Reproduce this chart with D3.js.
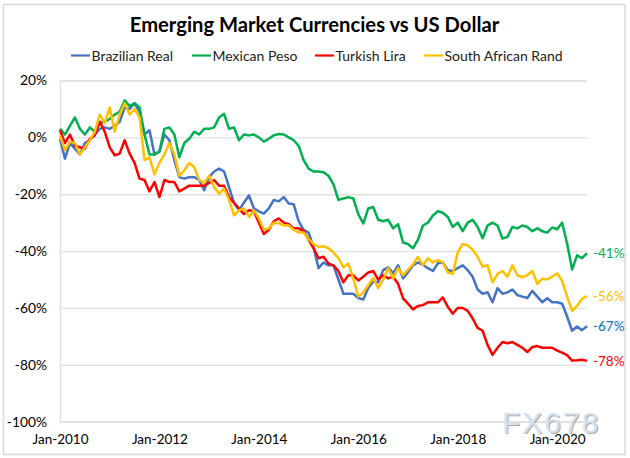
<!DOCTYPE html>
<html>
<head>
<meta charset="utf-8">
<script src="https://cdnjs.cloudflare.com/ajax/libs/d3/7.8.5/d3.min.js"></script>
<style>
body { margin: 0; background: #fff; }
text { font-family: Lato, "Noto Sans", sans-serif; }
</style>
</head>
<body>
<svg id="chart"></svg>
<script>
// sampled every 0.1 year from Jan-2010
const real = [-0.5,-7.5,-2,-4,-6,-2,-1,1,3,3.5,3,4,5.5,10.5,10,12,9,1,2.5,-6,-5,1,-1,-8,-14,-14.5,-14,-14,-15,-18.6,-14,-12,-11,-12,-17.5,-23,-25.6,-23,-20.4,-25,-26,-26.8,-25,-22,-22.5,-21,-23.3,-23.5,-29.5,-32.5,-33.5,-38.6,-46,-44,-45,-45,-50,-55,-55,-55,-56.5,-57,-53,-50.7,-51,-46.7,-45.7,-47.8,-45,-49.6,-47.4,-45,-44,-44.8,-46,-47,-44.3,-44,-46.7,-47,-46,-45,-46.7,-49,-53.5,-55,-54.5,-58,-53,-55,-54.5,-53.5,-55.5,-56,-56.5,-54,-56,-58,-56.6,-58,-58,-58.5,-63,-68,-66.5,-67.8,-66.4];
const peso = [3,1,4,7,3,1,3.5,2,5,5.5,6.5,8,9,13,11,12,10.5,1,-6,-6,-5,3,3.5,1,-7,-2,-0.5,2,1,3,3,3.5,7,8.3,3,3.5,-1,1,0.7,1,0,-1.5,-0.5,0.7,1.2,1,0,-1,-3,-8,-11,-12,-12,-12.3,-13.5,-16.5,-22,-21.5,-21,-21.5,-27,-30.3,-25,-24.5,-29,-29.5,-29,-32,-30.5,-37,-37.5,-39,-36,-31,-30,-27.5,-26,-26.5,-28,-31.5,-30,-33,-30,-29,-31.5,-35.5,-31,-30,-31,-35.6,-35,-31.5,-32,-31,-31.5,-33,-32,-33,-33.5,-31.7,-32.3,-30,-37.3,-46.5,-41.5,-42.5,-40.7];
const lira = [2.5,-2,1,-3,-3.5,-4,-0.5,0.7,5.5,2,-3.5,-6.3,-5.7,-1,-5.7,-9,-14.5,-15,-19,-15.7,-21,-15,-15.7,-15.7,-19,-18,-17,-17,-17,-17,-16,-15,-17,-17,-21,-23,-25,-27,-25.6,-26,-30,-34,-32.5,-29.5,-28.5,-30,-30.5,-32,-32,-33,-36,-39,-42.5,-42,-44.4,-45,-47,-51,-48.5,-48.5,-50.3,-49,-47.5,-47,-50,-48.5,-49.6,-49,-51.5,-56.6,-58.5,-60.5,-59.3,-59,-58,-58,-58,-56.3,-59.6,-62,-60,-60,-61,-63.7,-67,-68,-73,-76.5,-74,-72,-72.4,-72,-73,-74,-75.5,-73.7,-73.4,-74,-74,-74,-75,-75.7,-76.6,-78.5,-78.4,-78.2,-78.6];
const rand = [0.7,-4.5,-1.5,-2,-6,-3.5,-1,2,8,5,10.5,2,8,12,8,10,7,-8,-7,-13,-9,-6,-2,-6,-13.5,-11.6,-9,-10.4,-15,-16,-13.5,-17.5,-19.8,-18,-22,-27.4,-25.6,-25,-28,-25.6,-28.6,-32.5,-32,-30,-30.2,-31,-31,-32.5,-33.5,-33.5,-35.8,-37.5,-38.5,-38.3,-39,-40.5,-42.5,-45.7,-44.4,-49.7,-56,-54.5,-52,-49.5,-53,-50,-46,-49.6,-46,-48.5,-46.5,-44.7,-42,-45,-42.5,-44,-43.2,-44,-47.5,-48,-40.4,-37.5,-38,-39.5,-42,-45.5,-45,-51,-48,-47,-49,-45,-48.5,-49.2,-48.5,-47,-51.5,-49.7,-50,-49,-47.8,-50.5,-56,-61,-59.3,-56.8,-55.8];

const seriesNames = ['Brazilian Real', 'Mexican Peso', 'Turkish Lira', 'South African Rand'];
const seriesValues = [real, peso, lira, rand];
const seriesColors = ['#4472C4', '#00B050', '#FF0000', '#FFC000'];
const legendX = [71, 192, 315, 424];
const yTicks = [20, 0, -20, -40, -60, -80, -100];
const xTicks = [2010, 2012, 2014, 2016, 2018, 2020];
const endLabels = ['-67%', '-41%', '-78%', '-56%'];
const endColors = ['#0070C0', '#00B050', '#FF0000', '#FFC000'];

const width = 630, height = 458;
const svg = d3.select('#chart').attr('width', width).attr('height', height);

const x = d3.scaleLinear().domain([2010, 2020.6]).range([60, 587]);
const y = d3.scaleLinear().domain([-100, 20]).range([421.7, 80.5]);

svg.append('rect')
	.attr('x', 3.5).attr('y', 4.5)
	.attr('width', 621.5).attr('height', 450)
	.attr('fill', '#fff')
	.attr('stroke', '#D9D9D9')
	.attr('stroke-width', 1.5);

svg.append('text')
	.attr('x', 314.5).attr('y', 32)
	.attr('text-anchor', 'middle')
	.attr('font-size', 20.2)
	.attr('font-weight', 700)
	.attr('fill', '#000')
	.text('Emerging Market Currencies vs US Dollar');

// y axis with gridlines
const yAxis = svg.append('g')
	.attr('transform', 'translate(60,0)')
	.call(d3.axisLeft(y).tickValues(yTicks).tickSize(-527).tickPadding(13).tickFormat(d => d + '%'));
yAxis.select('.domain').attr('stroke', '#E0E0E0').attr('stroke-width', 1.5);
yAxis.selectAll('line').attr('stroke', '#E0E0E0').attr('stroke-width', 1.3);
yAxis.selectAll('text').attr('font-size', 13.8).attr('fill', '#000').attr('font-family', 'Lato');

const xAxis = svg.append('g')
	.attr('transform', 'translate(0,421.7)')
	.call(d3.axisBottom(x).tickValues(xTicks).tickSize(0).tickPadding(13).tickFormat(d => 'Jan-' + d));
xAxis.select('.domain').attr('stroke', '#E0E0E0').attr('stroke-width', 1.5);
xAxis.selectAll('text').attr('font-size', 13.5).attr('fill', '#000').attr('font-family', 'Lato');

const line = d3.line()
	.x((d, i) => x(2010 + i / 10))
	.y(d => y(d));

seriesValues.forEach((vals, k) => {
	svg.append('path')
		.datum(vals)
		.attr('fill', 'none')
		.attr('stroke', seriesColors[k])
		.attr('stroke-width', 2.5)
		.attr('stroke-linejoin', 'round')
		.attr('d', line);

	svg.append('line')
		.attr('x1', legendX[k]).attr('x2', legendX[k] + 19)
		.attr('y1', 55.5).attr('y2', 55.5)
		.attr('stroke', seriesColors[k])
		.attr('stroke-width', 2.2);

	svg.append('text')
		.attr('x', legendX[k] + 20.5).attr('y', 60.5)
		.attr('font-size', 14)
		.attr('fill', '#222')
		.text(seriesNames[k]);

	svg.append('text')
		.attr('x', 593).attr('y', y(vals[vals.length - 1]) + 5)
		.attr('font-size', 13.5)
		.attr('fill', endColors[k])
		.text(endLabels[k]);
});

// watermark, soft shadow through a filter
const shadow = svg.append('defs').append('filter').attr('id', 'wm');
shadow.append('feDropShadow')
	.attr('dx', 1.2).attr('dy', 1)
	.attr('stdDeviation', 0.4)
	.attr('flood-color', '#B8AA9C');

svg.append('text')
	.attr('x', 502).attr('y', 432.5)
	.attr('font-size', 30)
	.attr('letter-spacing', 2)
	.attr('fill', '#D3E2F2')
	.attr('filter', 'url(#wm)')
	.style('font-family', 'Liberation Sans')
	.text('FX678');
</script>
</body>
</html>
